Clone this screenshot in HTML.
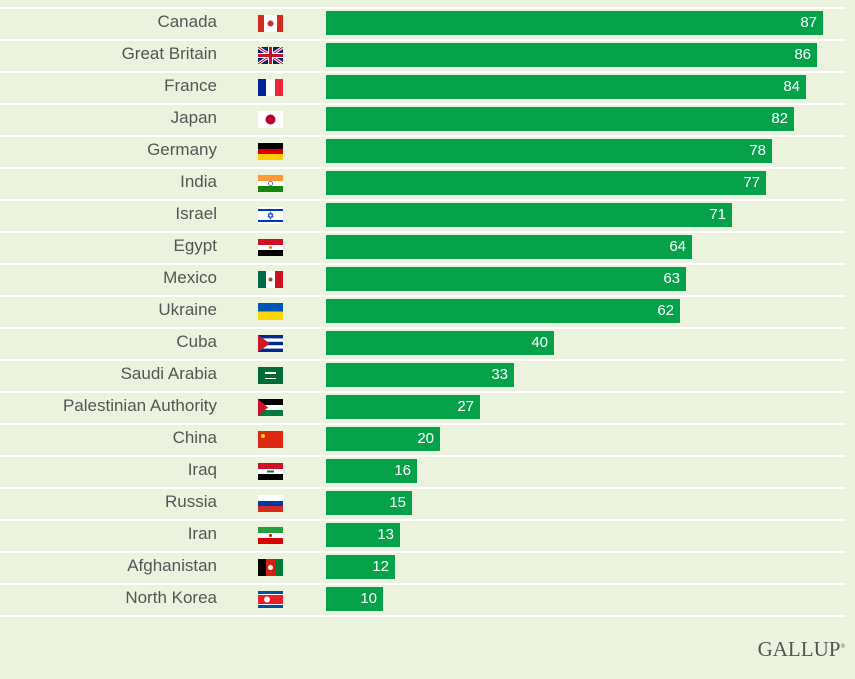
<!DOCTYPE html><html><head><style>
body{margin:0;width:855px;height:679px;background:#ebf3de;font-family:"Liberation Sans",sans-serif;position:relative;overflow:hidden}
.l{position:absolute;left:0;width:846px;height:2px;background:#fff}
.t{position:absolute;right:638px;font-size:17px;color:#555;line-height:20px}
.b{position:absolute;left:326px;height:24px;background:#06a24a;color:#fff;font-size:15px;line-height:24px;text-align:right;box-sizing:border-box;padding-right:6px}
.f{position:absolute;left:258px;width:25px;height:17px}
</style></head><body>
<div id="c"></div>
<div style="position:absolute;right:10px;top:637px;font-family:'Liberation Serif',serif;font-size:21px;color:#555">GALLUP<sup style="font-size:6px">®</sup></div>
<script>
const d=[["Canada",87],["Great Britain",86],["France",84],["Japan",82],["Germany",78],["India",77],["Israel",71],["Egypt",64],["Mexico",63],["Ukraine",62],["Cuba",40],["Saudi Arabia",33],["Palestinian Authority",27],["China",20],["Iraq",16],["Russia",15],["Iran",13],["Afghanistan",12],["North Korea",10]];
const fl={
"Canada":'<rect width=25 height=17 fill=#fff /><rect width=6 height=17 fill=#d52b1e /><rect x=19 width=6 height=17 fill=#d52b1e /><circle cx=12.5 cy=8.5 r=3 fill=#d52b1e />',
"Great Britain":'<rect width=25 height=17 fill=#012169 /><path d="M0 0L25 17M25 0L0 17" stroke=#fff stroke-width=3 /><path d="M0 0L25 17M25 0L0 17" stroke=#c8102e stroke-width=1 /><path d="M12.5 0V17M0 8.5H25" stroke=#fff stroke-width=5 /><path d="M12.5 0V17M0 8.5H25" stroke=#c8102e stroke-width=3 />',
"France":'<rect width=25 height=17 fill=#fff /><rect width=8 height=17 fill=#002395 /><rect x=17 width=8 height=17 fill=#ed2939 />',
"Japan":'<rect width=25 height=17 fill=#fff /><circle cx=12.5 cy=8.5 r=5 fill=#bc002d />',
"Germany":'<rect width=25 height=6 fill=#000 /><rect y=6 width=25 height=5 fill=#d00 /><rect y=11 width=25 height=6 fill=#ffce00 />',
"India":'<rect width=25 height=6 fill=#f93 /><rect y=6 width=25 height=5 fill=#fff /><rect y=11 width=25 height=6 fill=#138808 /><circle cx=12.5 cy=8.5 r=2 fill=none stroke=#008 stroke-width=.6 />',
"Israel":'<rect width=25 height=17 fill=#fff /><rect y=2 width=25 height=2 fill=#0038b8 /><rect y=13 width=25 height=2 fill=#0038b8 /><path d="M12.5 5L15 10H10ZM12.5 12L10 7H15Z" fill=none stroke=#0038b8 stroke-width=.7 />',
"Egypt":'<rect width=25 height=6 fill=#ce1126 /><rect y=6 width=25 height=5 fill=#fff /><rect y=11 width=25 height=6 fill=#000 /><circle cx=12.5 cy=8.5 r=1.5 fill=#c09300 />',
"Mexico":'<rect width=25 height=17 fill=#fff /><rect width=8 height=17 fill=#006847 /><rect x=17 width=8 height=17 fill=#ce1126 /><circle cx=12.5 cy=8.5 r=2 fill=#8b5a2b />',
"Ukraine":'<rect width=25 height=8.5 fill=#0057b7 /><rect y=8.5 width=25 height=8.5 fill=#ffd700 />',
"Cuba":'<rect width=25 height=17 fill=#002a8f /><rect y=3.4 width=25 height=3.4 fill=#fff /><rect y=10.2 width=25 height=3.4 fill=#fff /><path d="M0 0L12 8.5L0 17Z" fill=#cf142b />',
"Saudi Arabia":'<rect width=25 height=17 fill=#006c35 /><rect x=7 y=5 width=11 height=2 fill=#fff /><rect x=7 y=11 width=11 height=1 fill=#fff />',
"Palestinian Authority":'<rect width=25 height=6 fill=#000 /><rect y=6 width=25 height=5 fill=#fff /><rect y=11 width=25 height=6 fill=#007a3d /><path d="M0 0L10 8.5L0 17Z" fill=#ce1126 />',
"China":'<rect width=25 height=17 fill=#de2910 /><circle cx=5 cy=5 r=2 fill=#ffde00 />',
"Iraq":'<rect width=25 height=6 fill=#ce1126 /><rect y=6 width=25 height=5 fill=#fff /><rect y=11 width=25 height=6 fill=#000 /><rect x=9 y=7.5 width=7 height=2 fill=#007a3d />',
"Russia":'<rect width=25 height=6 fill=#fff /><rect y=6 width=25 height=5 fill=#0039a6 /><rect y=11 width=25 height=6 fill=#d52b1e />',
"Iran":'<rect width=25 height=6 fill=#239f40 /><rect y=6 width=25 height=5 fill=#fff /><rect y=11 width=25 height=6 fill=#da0000 /><circle cx=12.5 cy=8.5 r=1.5 fill=#da0000 />',
"Afghanistan":'<rect width=8 height=17 fill=#000 /><rect x=8 width=9 height=17 fill=#d32011 /><rect x=17 width=8 height=17 fill=#007a36 /><circle cx=12.5 cy=8.5 r=2.5 fill=#fff />',
"North Korea":'<rect width=25 height=17 fill=#024fa2 /><rect y=3 width=25 height=11 fill=#fff /><rect y=4 width=25 height=9 fill=#ed1c27 /><circle cx=9 cy=8.5 r=3 fill=#fff />'};
let h='<div class="l" style="top:7px"></div>';
d.forEach((r,i)=>{const y=23+32*i;
h+=`<div class="t" style="top:${y-11}px">${r[0]}</div><svg class="f" style="top:${y-8}px" viewBox="0 0 25 17">${fl[r[0]]}</svg><div class="b" style="top:${y-12}px;width:${Math.round(r[1]*5.712)}px">${r[1]}</div><div class="l" style="top:${y+16}px"></div>`;});
document.getElementById('c').innerHTML=h;
</script></body></html>
